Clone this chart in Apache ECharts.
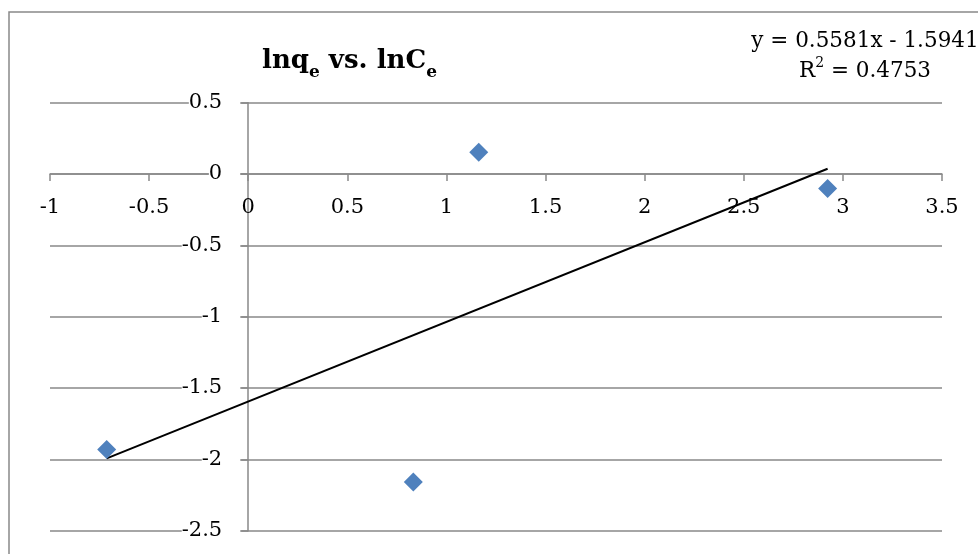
<!DOCTYPE html>
<html>
<head>
<meta charset="utf-8">
<script src="https://cdn.jsdelivr.net/npm/echarts@6/dist/echarts.min.js"></script>
<style>
html,body{margin:0;padding:0;background:#fff;}
#chart{width:978px;height:554px;}
</style>
</head>
<body>
<div id="chart"></div>
<script>
// Data
const lnCe = [-0.714, 0.833, 1.163, 2.923];
const lnqe = [-1.930, -2.159, 0.152, -0.102];
// Trendline as printed on the chart
const trendSlope = 0.5581;
const trendIntercept = -1.5941;
const trendR2 = 0.4753;
// Axis ranges
const xRange = [-1, 3.5, 0.5];
const yRange = [-2.5, 0.5, 0.5];

const points = lnCe.map((x, i) => [x, lnqe[i]]);
const xMin = Math.min.apply(null, lnCe);
const xMax = Math.max.apply(null, lnCe);
const trendData = [xMin, xMax].map(x => [x, trendSlope * x + trendIntercept]);

const FONT = 'DejaVu Serif';
const GRAY = '#898989';
const GRID = {left: 50, right: 36, top: 102.7, bottom: 23.3};

const chart = echarts.init(document.getElementById('chart'), null, {renderer: 'canvas'});
chart.setOption({
  animation: false,
  backgroundColor: '#fff',
  title: [
    {
      text: '{m|lnq}{s|e}{m| vs. lnC}{s|e}',
      left: 262,
      top: 48,
      padding: 0,
      textStyle: {
        rich: {
          m: {fontFamily: FONT, fontWeight: 'bold', fontSize: 26, lineHeight: 30, color: '#000', verticalAlign: 'top'},
          s: {fontFamily: FONT, fontWeight: 'bold', fontSize: 17, lineHeight: 33, color: '#000', verticalAlign: 'bottom'}
        }
      }
    },
    {
      text: '{n|y = ' + trendSlope.toFixed(4) + 'x - ' + Math.abs(trendIntercept).toFixed(4) + '}\n' +
            '{n|R}{p|2}{n| = ' + trendR2.toFixed(4) + '}',
      left: 865,
      top: 26,
      textAlign: 'center',
      padding: 0,
      textStyle: {
        align: 'center',
        fontWeight: 'normal',
        rich: {
          n: {fontFamily: FONT, fontWeight: 'normal', fontSize: 21.5, lineHeight: 30, color: '#000', verticalAlign: 'middle'},
          p: {fontFamily: FONT, fontWeight: 'normal', fontSize: 14, lineHeight: 30, color: '#000', verticalAlign: 'top', padding: [0, 0, 10, 0]}
        }
      }
    }
  ],
  graphic: [{
    type: 'rect',
    shape: {x: 9, y: 12, width: 1200, height: 800},
    style: {fill: 'none', stroke: GRAY, lineWidth: 1.5},
    silent: true,
    z: -1
  }],
  grid: {left: GRID.left, right: GRID.right, top: GRID.top, bottom: GRID.bottom, containLabel: false, outerBoundsMode: 'none'},
  xAxis: {
    type: 'value',
    min: xRange[0], max: xRange[1], interval: xRange[2],
    axisLine: {show: true, onZero: false, lineStyle: {color: GRAY, width: 1.5}},
    axisTick: {show: true, inside: false, length: 7, lineStyle: {color: GRAY, width: 1.5}},
    axisLabel: {fontFamily: FONT, fontSize: 21, color: '#000', margin: 23},
    splitLine: {show: false}
  },
  yAxis: {
    type: 'value',
    min: yRange[0], max: yRange[1], interval: yRange[2],
    axisLine: {show: true, onZero: false, lineStyle: {color: GRAY, width: 1.5}},
    axisTick: {show: true, inside: false, length: 7, lineStyle: {color: GRAY, width: 1.5}},
    axisLabel: {fontFamily: FONT, fontSize: 21, color: '#000', margin: 8,
      backgroundColor: '#fff', padding: [1, 18, 1, 0]},
    splitLine: {show: true, lineStyle: {color: GRAY, width: 1.5}}
  },
  series: [
    {
      type: 'line',
      data: trendData,
      showSymbol: false,
      symbol: 'none',
      lineStyle: {color: '#000', width: 2},
      z: 2,
      silent: true
    },
    {
      type: 'scatter',
      data: points,
      symbol: 'diamond',
      symbolSize: 19,
      itemStyle: {color: '#4F81BD', opacity: 1},
      z: 3
    }
  ]
});

// Move both axes (line, ticks and labels) so that they cross at the origin,
// using the library's own scales to find where zero is.
const origin = chart.convertToPixel({gridIndex: 0}, [0, 0]);
const gridRect = chart.getModel().getComponent('grid', 0).coordinateSystem.getRect();
chart.setOption({
  xAxis: {offset: -((gridRect.y + gridRect.height) - origin[1])},
  yAxis: {offset: -(origin[0] - gridRect.x)}
});
</script>
</body>
</html>
